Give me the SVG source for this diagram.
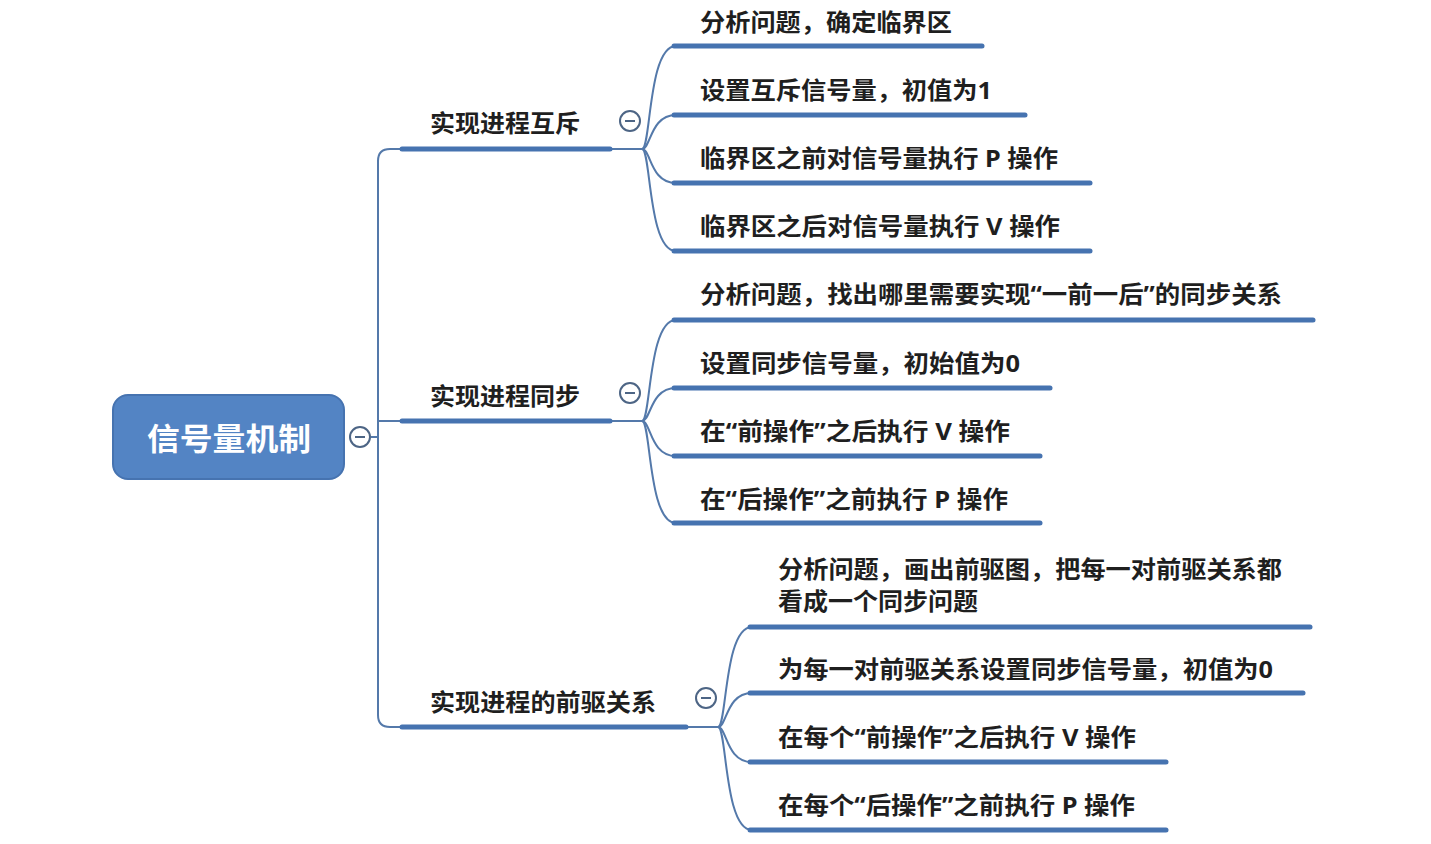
<svg xmlns="http://www.w3.org/2000/svg" width="1431" height="844" viewBox="0 0 1431 844">
<style>
.t{font-family:"Noto Sans","Noto Sans CJK SC",sans-serif;font-weight:bold;font-size:24px;fill:#1f1f1f}
.b{font-family:"Noto Sans","Noto Sans CJK SC",sans-serif;font-weight:bold;font-size:24px;fill:#1f1f1f}
.r{font-family:"Noto Sans","Noto Sans CJK SC",sans-serif;font-weight:bold;font-size:31px;fill:#ffffff}
.ul{stroke:#4673b0;stroke-width:5;stroke-linecap:round;fill:none}
.c{stroke:#5479aa;stroke-width:2;fill:none}
.tog circle{fill:#fff;stroke:#4d6585;stroke-width:2}
.tog line{stroke:#4d6585;stroke-width:2}
</style>
<rect width="1431" height="844" fill="#ffffff"/>
<g id="connectors">
<path class="c" d="M371,437 H378"/>
<path class="c" d="M402,149 H390 Q378,149 378,161 V715 Q378,727 390,727 H402"/>
<path class="c" d="M378,421 H402"/>
<path class="c" d="M610,149 H642"/>
<path class="c" d="M610,421 H642"/>
<path class="c" d="M686,727 H718"/>
<path class="c" d="M642,149 C651,149 648,46 676,46"/>
<path class="c" d="M642,149 C651,149 650,115 676,115"/>
<path class="c" d="M642,149 C651,149 650,183 676,183"/>
<path class="c" d="M642,149 C651,149 648,251 676,251"/>
<path class="c" d="M642,421 C651,421 648,320 676,320"/>
<path class="c" d="M642,421 C651,421 650,388 676,388"/>
<path class="c" d="M642,421 C651,421 650,456 676,456"/>
<path class="c" d="M642,421 C651,421 648,523 676,523"/>
<path class="c" d="M718,727 C727,727 724,627 752,627"/>
<path class="c" d="M718,727 C727,727 726,693 752,693"/>
<path class="c" d="M718,727 C727,727 726,762 752,762"/>
<path class="c" d="M718,727 C727,727 724,830 752,830"/>
</g>
<g id="root">
<rect x="113" y="395" width="231" height="84" rx="15" fill="#5384c4" stroke="#4673b0" stroke-width="2"/>
<text class="r" x="147" y="450" textLength="164" lengthAdjust="spacingAndGlyphs">信号量机制</text>
<g class="tog"><circle cx="360" cy="437" r="10"/><line x1="355" y1="437" x2="365" y2="437"/></g>
</g>
<g id="b1">
<line class="ul" x1="402" y1="149" x2="610" y2="149"/>
<text class="b" x="430" y="132" textLength="150" lengthAdjust="spacingAndGlyphs">实现进程互斥</text>
<g class="tog"><circle cx="630" cy="121" r="10"/><line x1="625" y1="121" x2="635" y2="121"/></g>
</g>
<g id="b1c1"><line class="ul" x1="674" y1="46" x2="982" y2="46"/><text class="t" x="700" y="31" textLength="252" lengthAdjust="spacingAndGlyphs">分析问题，确定临界区</text></g>
<g id="b1c2"><line class="ul" x1="674" y1="115" x2="1025" y2="115"/><text class="t" x="700" y="99" textLength="292" lengthAdjust="spacingAndGlyphs">设置互斥信号量，初值为1</text></g>
<g id="b1c3"><line class="ul" x1="674" y1="183" x2="1090" y2="183"/><text class="t" x="700" y="167" textLength="358" lengthAdjust="spacingAndGlyphs">临界区之前对信号量执行 P 操作</text></g>
<g id="b1c4"><line class="ul" x1="674" y1="251" x2="1090" y2="251"/><text class="t" x="700" y="235" textLength="360" lengthAdjust="spacingAndGlyphs">临界区之后对信号量执行 V 操作</text></g>
<g id="b2">
<line class="ul" x1="402" y1="421" x2="610" y2="421"/>
<text class="b" x="430" y="405" textLength="150" lengthAdjust="spacingAndGlyphs">实现进程同步</text>
<g class="tog"><circle cx="630" cy="393" r="10"/><line x1="625" y1="393" x2="635" y2="393"/></g>
</g>
<g id="b2c1"><line class="ul" x1="674" y1="320" x2="1313" y2="320"/><text class="t" x="700" y="303" textLength="582" lengthAdjust="spacingAndGlyphs">分析问题，找出哪里需要实现“一前一后”的同步关系</text></g>
<g id="b2c2"><line class="ul" x1="674" y1="388" x2="1050" y2="388"/><text class="t" x="700" y="372" textLength="320" lengthAdjust="spacingAndGlyphs">设置同步信号量，初始值为0</text></g>
<g id="b2c3"><line class="ul" x1="674" y1="456" x2="1040" y2="456"/><text class="t" x="700" y="440" textLength="310" lengthAdjust="spacingAndGlyphs">在“前操作”之后执行 V 操作</text></g>
<g id="b2c4"><line class="ul" x1="674" y1="523" x2="1040" y2="523"/><text class="t" x="700" y="508" textLength="308" lengthAdjust="spacingAndGlyphs">在“后操作”之前执行 P 操作</text></g>
<g id="b3">
<line class="ul" x1="402" y1="727" x2="686" y2="727"/>
<text class="b" x="430" y="711" textLength="226" lengthAdjust="spacingAndGlyphs">实现进程的前驱关系</text>
<g class="tog"><circle cx="706" cy="698" r="10"/><line x1="701" y1="698" x2="711" y2="698"/></g>
</g>
<g id="b3c1"><line class="ul" x1="750" y1="627" x2="1310" y2="627"/><text class="t" x="778" y="578" textLength="504" lengthAdjust="spacingAndGlyphs">分析问题，画出前驱图，把每一对前驱关系都</text><text class="t" x="778" y="610" textLength="200" lengthAdjust="spacingAndGlyphs">看成一个同步问题</text></g>
<g id="b3c2"><line class="ul" x1="750" y1="693" x2="1303" y2="693"/><text class="t" x="778" y="678" textLength="495" lengthAdjust="spacingAndGlyphs">为每一对前驱关系设置同步信号量，初值为0</text></g>
<g id="b3c3"><line class="ul" x1="750" y1="762" x2="1166" y2="762"/><text class="t" x="778" y="746" textLength="358" lengthAdjust="spacingAndGlyphs">在每个“前操作”之后执行 V 操作</text></g>
<g id="b3c4"><line class="ul" x1="750" y1="830" x2="1166" y2="830"/><text class="t" x="778" y="814" textLength="357" lengthAdjust="spacingAndGlyphs">在每个“后操作”之前执行 P 操作</text></g>
</svg>
